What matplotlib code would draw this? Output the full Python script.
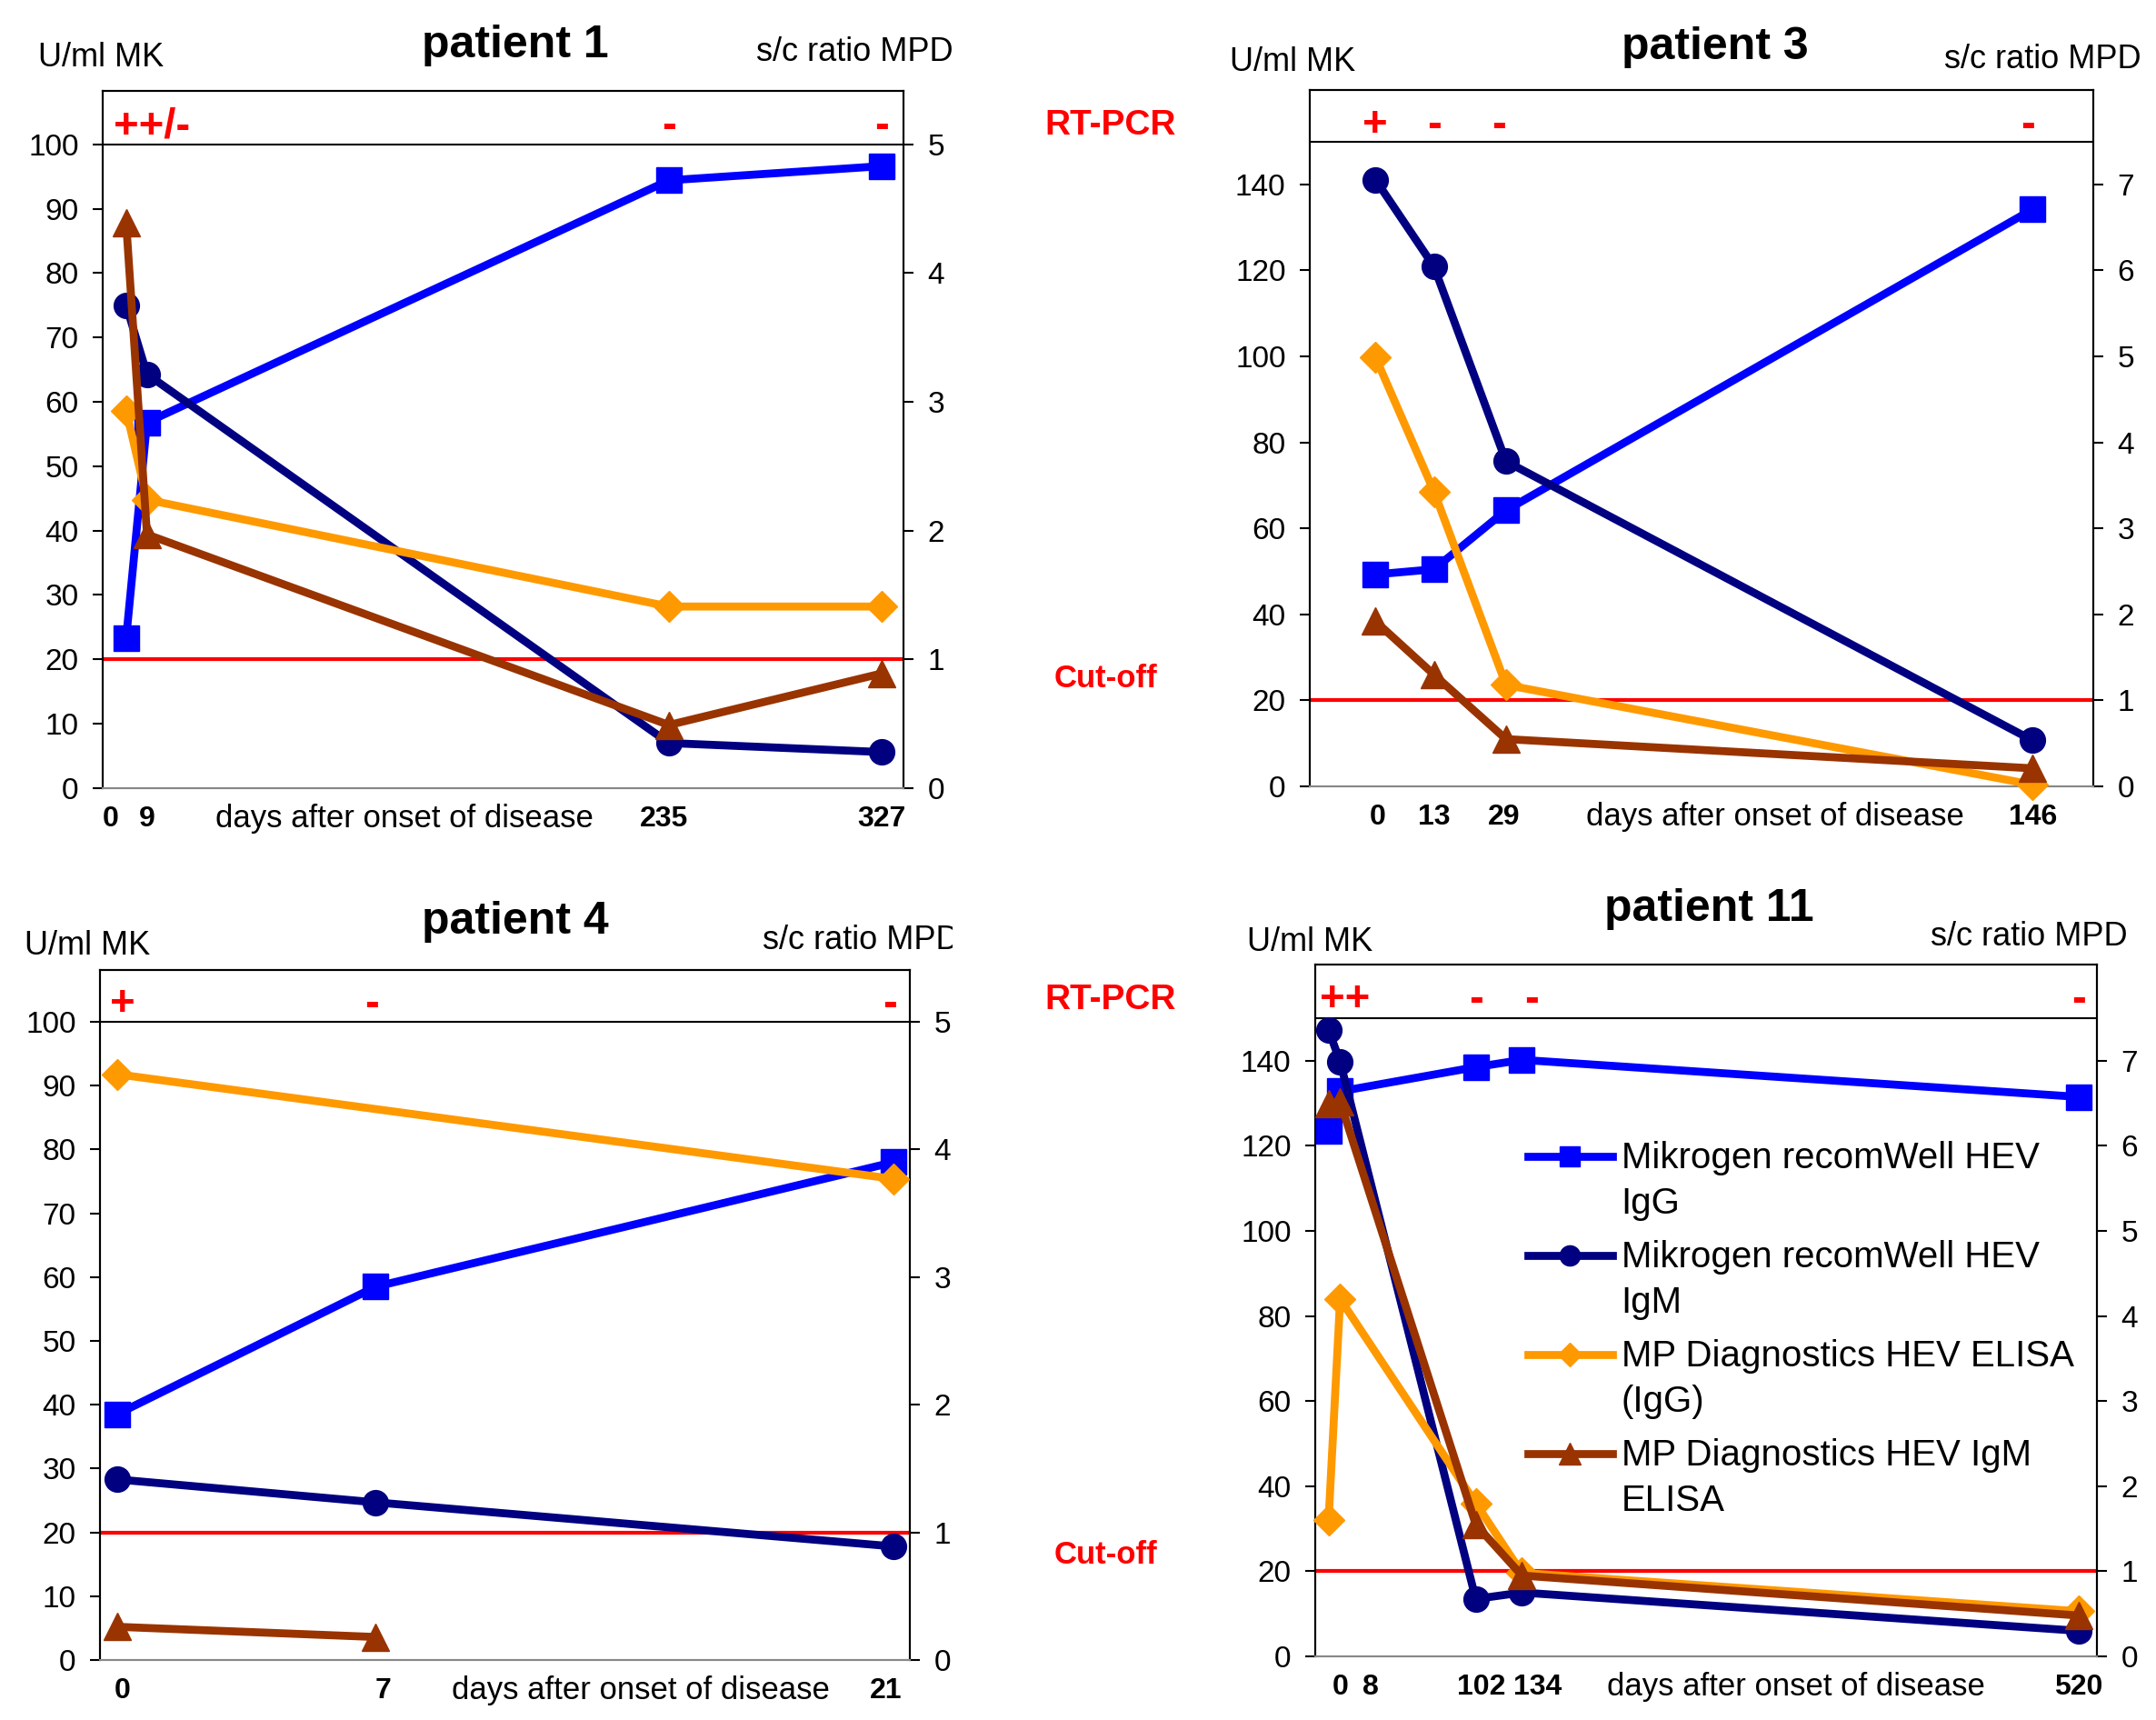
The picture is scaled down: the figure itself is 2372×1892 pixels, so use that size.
import numpy as np
import matplotlib.pyplot as plt
from matplotlib.lines import Line2D
from matplotlib.legend_handler import HandlerLine2D
from matplotlib.transforms import Bbox, TransformedBbox, blended_transform_factory

plt.rcParams['font.family'] = ['Liberation Sans', 'DejaVu Sans']

BLUE = '#0000ff'
NAVY = '#000080'
ORANGE = '#ff9900'
BROWN = '#993300'
RED = '#ff0000'

# MK values in U/ml (left axis), MPD values as s/c ratio (right axis)
p1_days = [0, 9, 235, 327]
p1_mk_igg = [23.3, 56.8, 94.4, 96.6]
p1_mk_igm = [75.0, 64.3, 7.0, 5.6]
p1_mpd_igg = [2.93, 2.24, 1.41, 1.41]
p1_mpd_igm = [4.39, 1.97, 0.49, 0.89]
p1_pcr = ['++/-', '-', '-']
p1_ticks = ['0', '9', '235', '327']

p3_days = [0, 13, 29, 146]
p3_mk_igg = [49.3, 50.5, 64.2, 134.2]
p3_mk_igm = [141.1, 120.9, 75.6, 10.7]
p3_mpd_igg = [4.99, 3.43, 1.18, 0.02]
p3_mpd_igm = [1.92, 1.30, 0.55, 0.21]
p3_pcr = ['+', '-', '-', '-']
p3_ticks = ['0', '13', '29', '146']

p4_days = [0, 7, 21]
p4_mk_igg = [38.5, 58.5, 78.0]
p4_mk_igm = [28.3, 24.7, 17.8]
p4_mpd_igg_days = [0, 21]
p4_mpd_igg = [4.59, 3.77]
p4_mpd_igm_days = [0, 7]
p4_mpd_igm = [0.26, 0.18]
p4_pcr = ['+', '-', '-']
p4_ticks = ['0', '7', '21']

p11_days = [0, 8, 102, 134, 520]
p11_mk_igg = [123.5, 132.8, 138.5, 140.2, 131.5]
p11_mk_igm = [147.2, 139.8, 13.5, 15.0, 6.0]
p11_mpd_igg = [1.6, 4.2, 1.8, 0.98, 0.53]
p11_mpd_igm = [6.5, 6.52, 1.55, 0.95, 0.48]
p11_pcr = ['++', '-', '-', '-']
p11_ticks = ['0', '8', '102', '134', '520']

labels = ['Mikrogen recomWell HEV\nIgG', 'Mikrogen recomWell HEV\nIgM',
          'MP Diagnostics HEV ELISA\n(IgG)', 'MP Diagnostics HEV IgM\nELISA']

LEG_FS = 29
LEG_LS = 1.4


class FirstLineHandler(HandlerLine2D):
    # put the legend line next to the first text line, not the middle
    def create_artists(self, legend, orig_handle, xdescent, ydescent, width, height,
                       fontsize, trans):
        arts = super().create_artists(legend, orig_handle, xdescent, ydescent, width,
                                      height, fontsize, trans)
        for a in arts:
            a.set_ydata(np.asarray(a.get_ydata()) + 0.5 * LEG_LS * fontsize)
        return arts


fig = plt.figure(figsize=(23.72, 18.92), dpi=100)


def panel(rect, xlim, ytop, ybox, ymax, ystep, series, pcr_x, pcr_txt, lab_x, lab_txt, days_x):
    ax = fig.add_axes(rect)
    ax2 = ax.twinx()
    ax.set_xlim(*xlim)
    ax.set_ylim(0, ytop)
    ax2.set_ylim(0, ytop / 20)
    ax.set_yticks(np.arange(0, ymax + 1, ystep))
    ax2.set_yticks(np.arange(0, ymax / 20 + 1))
    ax.axhline(ybox, color='black', lw=1.5, zorder=1)
    ax.axhline(20, color=RED, lw=3, zorder=1)
    lines = []
    for d, v, c, m, ms, right in series:
        ln, = (ax2 if right else ax).plot(d, v, color=c, marker=m, ms=ms, lw=6.3,
                                         clip_on=False, zorder=3)
        lines.append(ln)
    ax.set_xticks(lab_x)
    ax.set_xticklabels(lab_txt, fontweight='bold', fontsize=23)
    ax.tick_params(axis='x', length=0, pad=14)
    ax.tick_params(axis='y', direction='out', length=8, width=1.5, labelsize=24, pad=11)
    ax2.tick_params(axis='y', direction='out', length=8, width=1.5, labelsize=24, pad=11)
    for a in (ax, ax2):
        for s in a.spines.values():
            s.set_linewidth(1.5)
        a.spines['bottom'].set_color('#888888')
    trans = blended_transform_factory(ax.transData, ax.transAxes)
    for x, t in zip(pcr_x, pcr_txt):
        ax.text(x, 0.949, t, transform=trans, ha='center', va='center',
                color=RED, fontsize=34, fontweight='bold')
    ax.text(days_x, -0.044, 'days after onset of disease', transform=ax.transAxes,
            ha='center', va='center', fontsize=25)
    return ax, ax2, lines


def four(days, igg, igm, d_igg, mpd_igg, d_igm, mpd_igm):
    return [(days, igg, BLUE, 's', 20, False),
            (days, igm, NAVY, 'o', 20, False),
            (d_igg, mpd_igg, ORANGE, 'D', 17, True),
            (d_igm, mpd_igm, BROWN, '^', 21, True)]


panel([0.0476, 0.5418, 0.3714, 0.4054], (-10.2, 336.5), 108.3, 100, 100, 10,
      four(p1_days, p1_mk_igg, p1_mk_igm, p1_days, p1_mpd_igg, p1_days, p1_mpd_igm),
      [11, 235, 327], p1_pcr, [-6.7, 9, 233, 327], p1_ticks, 0.377)

panel([0.6075, 0.5428, 0.3634, 0.4047], (-14.6, 159.5), 161.9, 150, 140, 20,
      four(p3_days, p3_mk_igg, p3_mk_igm, p3_days, p3_mpd_igg, p3_days, p3_mpd_igm),
      [0, 13, 27.5, 145], p3_pcr, [0.5, 13.1, 28.6, 146], p3_ticks, 0.594)

panel([0.0464, 0.0349, 0.3756, 0.4014], (-0.457, 21.45), 108.2, 100, 100, 10,
      four(p4_days, p4_mk_igg, p4_mk_igm, p4_mpd_igg_days, p4_mpd_igg,
           p4_mpd_igm_days, p4_mpd_igm),
      [0.15, 6.9, 20.9], p4_pcr, [0.15, 7.2, 20.8], p4_ticks, 0.668)

ax, ax2, lines = panel([0.6100, 0.0370, 0.3626, 0.4022], (-9.3, 532.6), 162.6, 150, 140, 20,
                       four(p11_days, p11_mk_igg, p11_mk_igm, p11_days, p11_mpd_igg,
                            p11_days, p11_mpd_igm),
                       [11, 102, 141, 520], p11_pcr, [8.5, 29.4, 105.6, 144.8, 520],
                       p11_ticks, 0.615)

leg = ax2.legend(lines, labels, loc='upper left', bbox_to_anchor=(0.272, 0.745),
                 frameon=False, fontsize=LEG_FS, handlelength=2.3, handletextpad=0.25,
                 labelspacing=0.52, borderaxespad=0, borderpad=0, markerscale=0.8,
                 handler_map={Line2D: FirstLineHandler()})
for t in leg.get_texts():
    t.set_linespacing(LEG_LS)

# titles and axis captions
for x, y, s in [(0.2391, 0.9734, 'patient 1'), (0.7953, 0.9726, 'patient 3'),
                (0.2391, 0.4643, 'patient 4'), (0.7928, 0.4715, 'patient 11')]:
    fig.text(x, y, s, ha='center', va='center', fontsize=36, fontweight='bold')

for x, y in [(0.0179, 0.9664), (0.5705, 0.9639), (0.0115, 0.4498), (0.5785, 0.4524)]:
    fig.text(x, y, 'U/ml MK', ha='left', va='center', fontsize=26)

for x, y in [(0.4419, 0.9696), (0.993, 0.9656), (0.9867, 0.4556)]:
    fig.text(x, y, 's/c ratio MPD', ha='right', va='center', fontsize=26)

t = fig.text(0.3537, 0.453, 's/c ratio MPD', ha='left', va='center', fontsize=26)
t.set_clip_box(TransformedBbox(Bbox([[0, 0], [0.4418, 1]]), fig.transFigure))
t.set_clip_on(True)

for y in (0.9271, 0.4186):
    fig.text(0.5152, y, 'RT-PCR', ha='center', va='center', color=RED,
             fontsize=28, fontweight='bold')
for y in (0.6052, 0.0957):
    fig.text(0.513, y, 'Cut-off', ha='center', va='center', color=RED,
             fontsize=25, fontweight='bold')

fig.savefig('out.png', dpi=100)
